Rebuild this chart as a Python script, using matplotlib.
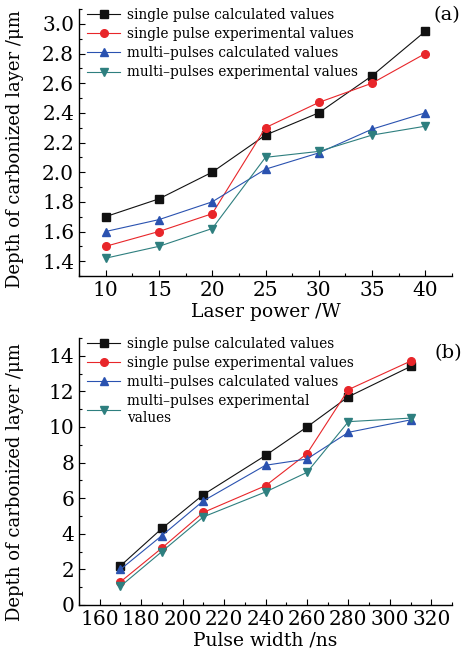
import matplotlib
matplotlib.use("Agg")
import matplotlib.pyplot as plt
from matplotlib.ticker import MultipleLocator

plt.rcParams['font.family'] = ['DejaVu Serif']
plt.rcParams['mathtext.fontset'] = 'dejavuserif'

power = [10, 15, 20, 25, 30, 35, 40]
a_single_calc = [1.70, 1.82, 2.00, 2.25, 2.40, 2.65, 2.95]
a_single_exp = [1.50, 1.60, 1.72, 2.30, 2.47, 2.60, 2.80]
a_multi_calc = [1.60, 1.68, 1.80, 2.02, 2.13, 2.29, 2.40]
a_multi_exp = [1.42, 1.50, 1.62, 2.10, 2.14, 2.25, 2.31]

width = [170, 190, 210, 240, 260, 280, 310]
b_single_calc = [2.2, 4.3, 6.2, 8.4, 10.0, 11.7, 13.4]
b_single_exp = [1.3, 3.2, 5.2, 6.7, 8.5, 12.1, 13.7]
b_multi_calc = [2.0, 3.9, 5.85, 7.85, 8.2, 9.7, 10.4]
b_multi_exp = [1.05, 3.0, 4.95, 6.35, 7.45, 10.3, 10.5]

labels_a = ["single pulse calculated values", "single pulse experimental values",
            "multi\u2013pulses calculated values", "multi\u2013pulses experimental values"]
labels_b = ["single pulse calculated values", "single pulse experimental values",
            "multi\u2013pulses calculated values", "multi\u2013pulses experimental\nvalues"]

colors = ["#111111", "#e8262a", "#2a52b0", "#2e7f7f"]
markers = ["s", "o", "^", "v"]

fig = plt.figure(figsize=(4.62, 6.54), dpi=100)
W, H = 462, 654
ax1 = fig.add_axes([79 / W, 1 - 276 / H, (452 - 79) / W, (276 - 9) / H])
ax2 = fig.add_axes([79 / W, 1 - 605 / H, (452 - 79) / W, (605 - 338) / H])

def style(ax):
    for s in ["top", "right"]:
        ax.spines[s].set_visible(False)
    for s in ["left", "bottom"]:
        ax.spines[s].set_linewidth(1.0)
    ax.tick_params(which="major", direction="in", length=4, width=0.8, labelsize=14.5)
    ax.tick_params(which="minor", direction="in", length=2.5, width=0.8)

leg_kw = dict(loc="upper left", bbox_to_anchor=(0.0, 1.035), frameon=False, fontsize=9.8,
              handlelength=2.4, handletextpad=0.5, labelspacing=0.38, borderaxespad=0.2)

series_a = [a_single_calc, a_single_exp, a_multi_calc, a_multi_exp]
for ys, c, m, lab in zip(series_a, colors, markers, labels_a):
    ax1.plot(power, ys, color=c, marker=m, markersize=5.5, linewidth=0.8, label=lab)
ax1.set_xlim(7.5, 42.5)
ax1.set_ylim(1.3, 3.1)
ax1.xaxis.set_major_locator(MultipleLocator(5))
ax1.xaxis.set_minor_locator(MultipleLocator(2.5))
ax1.yaxis.set_major_locator(MultipleLocator(0.2))
ax1.yaxis.set_minor_locator(MultipleLocator(0.1))
ax1.yaxis.set_major_formatter(plt.FormatStrFormatter('%.1f'))
style(ax1)
ax1.set_xlabel("Laser power /W", fontsize=13.5, labelpad=2)
ax1.set_ylabel("Depth of carbonized layer /\u03bcm", fontsize=13, va="center")
ax1.yaxis.set_label_coords((15.5 - 79) / 373, 1 - (149 - 9) / 267)
ax1.legend(**leg_kw)
fig.text(447 / W, 1 - 15 / H, "(a)", fontsize=14, ha="center", va="center")

series_b = [b_single_calc, b_single_exp, b_multi_calc, b_multi_exp]
for ys, c, m, lab in zip(series_b, colors, markers, labels_b):
    ax2.plot(width, ys, color=c, marker=m, markersize=5.5, linewidth=0.8, label=lab)
ax2.set_xlim(150, 330)
ax2.set_ylim(0, 15)
ax2.xaxis.set_major_locator(MultipleLocator(20))
ax2.xaxis.set_minor_locator(MultipleLocator(10))
ax2.yaxis.set_major_locator(MultipleLocator(2))
ax2.yaxis.set_minor_locator(MultipleLocator(1))
style(ax2)
ax2.set_xlabel("Pulse width /ns", fontsize=13.5, labelpad=2)
ax2.set_ylabel("Depth of carbonized layer /\u03bcm", fontsize=13, va="center")
ax2.yaxis.set_label_coords((15.5 - 79) / 373, 1 - (482 - 338) / 267)
ax2.legend(**leg_kw)
fig.text(448 / W, 1 - 353 / H, "(b)", fontsize=14, ha="center", va="center")

fig.savefig("out.png", dpi=100)
